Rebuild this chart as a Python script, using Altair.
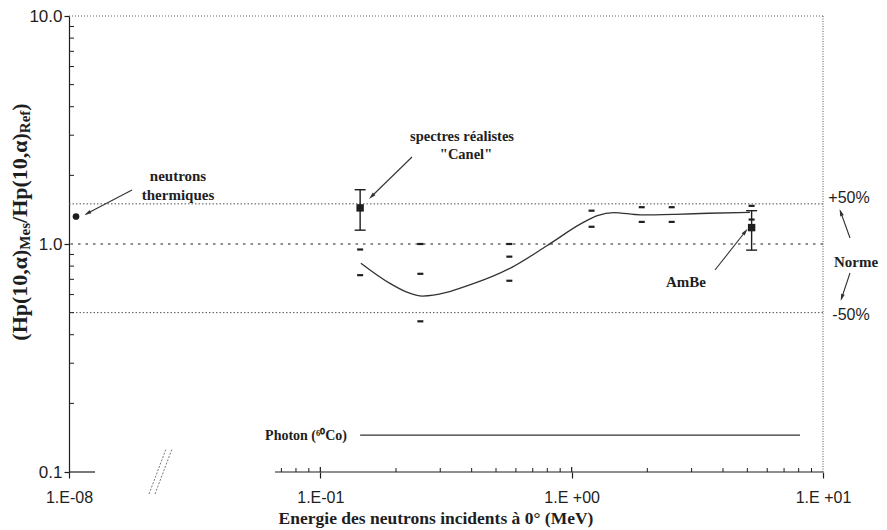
import math
import altair as alt
import pandas as pd

# ---------------- data ----------------
thermal_energy = [2.5e-8]
thermal_ratio = [1.32]

canel_energy = [0.144]
canel_ratio = [1.44]
canel_low = [1.15]
canel_high = [1.73]

ambe_energy = [5.2]
ambe_ratio = [1.18]
ambe_low = [0.94]
ambe_high = [1.40]

dash_energy = [0.144, 0.144, 0.25, 0.25, 0.25, 0.565, 0.565, 0.565,
               1.2, 1.2, 1.9, 1.9, 2.5, 2.5, 5.2, 5.2]
dash_ratio = [0.946, 0.73, 1.0, 0.74, 0.458, 1.0, 0.88, 0.69,
              1.40, 1.19, 1.45, 1.25, 1.45, 1.25, 1.47, 1.28]

curve_energy = [0.145, 0.19, 0.221, 0.255, 0.406, 0.578, 0.80, 1.086,
                1.265, 1.47, 1.88, 2.59, 3.50, 5.12]
curve_ratio = [0.824, 0.67, 0.615, 0.591, 0.67, 0.79, 0.985, 1.225,
               1.333, 1.374, 1.342, 1.35, 1.364, 1.377]

photon_energy = [0.144, 8.1]
photon_ratio = [0.145, 0.145]

limit_levels = [1.5, 0.5]          # +50 % / -50 %
norm_level = [1.0]                 # Norme
top_level = [10.0]

y_tick_values = [0.1, 1.0, 10.0]
y_minor_values = [0.2, 0.3, 0.4, 0.5, 0.6, 0.7, 0.8, 0.9, 2, 3, 4, 5, 6, 7, 8, 9]
x_tick_energy = [1e-8, 0.1, 1.0, 10.0]
x_tick_labels = ["1.E-08", "1.E-01", "1.E +00", "1.E +01"]
x_minor_energy = [0.07, 0.08, 0.09, 0.2, 0.3, 0.4, 0.5, 0.6, 0.7, 0.8, 0.9,
                  2, 3, 4, 5, 6, 7, 8, 9]
x_major_inner_energy = [0.1, 1.0]
axis_left_stub = [1e-8, 3e-7]
axis_right_span = [0.066, 10.0]


# broken energy axis: log10 for E >= 0.01, compressed segment near 1e-8
def pos(e):
    lg = math.log10(e)
    if e >= 0.01:
        return lg
    return -2 + (lg + 8) * 0.07


W, H = 754, 456
INK = "#1e1e1e"
SERIF = "Liberation Serif"
SANS = "Liberation Sans"

tick_pos = [pos(e) for e in x_tick_energy]
expr = "'" + x_tick_labels[-1] + "'"
for i in range(len(tick_pos) - 2, -1, -1):
    mid = (tick_pos[i] + tick_pos[i + 1]) / 2
    expr = f"datum.value < {mid} ? '{x_tick_labels[i]}' : " + expr

xs = alt.Scale(domain=[-2, 1], nice=False, zero=False)
ys = alt.Scale(type="log", domain=[0.1, 10], nice=False)

x_axis = alt.Axis(values=tick_pos, labelExpr=expr, domain=False, grid=False,
                  tickSize=6, tickColor=INK, tickWidth=1.2,
                  labelFont=SANS, labelFontSize=16, labelColor=INK,
                  labelPadding=11, labelFlush=False, labelOverlap=False,
                  labelBound=False, title=None)
y_axis = alt.Axis(values=y_tick_values, format=".1f", domain=True,
                  domainColor=INK, domainWidth=1.2, grid=False,
                  tickSize=5, tickColor=INK, tickWidth=1.2,
                  labelFont=SANS, labelFontSize=17, labelColor=INK,
                  labelPadding=2, labelFlush=False, labelOverlap=False,
                  title=None)


def X(f):
    return alt.X(f, type="quantitative", scale=xs, axis=x_axis)


def Y(f):
    return alt.Y(f, type="quantitative", scale=ys, axis=y_axis)


layers = []

# reference levels
layers.append(alt.Chart(pd.DataFrame({"r": top_level})).mark_rule(
    color="#666", strokeWidth=1, strokeDash=[1, 2]).encode(y=Y("r")))
layers.append(alt.Chart(pd.DataFrame({"r": limit_levels})).mark_rule(
    color="#555", strokeWidth=1, strokeDash=[1.5, 2]).encode(y=Y("r")))
layers.append(alt.Chart(pd.DataFrame({"r": norm_level})).mark_rule(
    color=INK, strokeWidth=1.2, strokeDash=[2.5, 5]).encode(y=Y("r")))

# right dotted border
layers.append(alt.Chart(pd.DataFrame({"u": [pos(10.0)], "lo": [0.1], "hi": [10.0]})).mark_rule(
    color="#555", strokeWidth=1, strokeDash=[1, 1.5]).encode(x=X("u"), y=Y("lo"), y2="hi"))

# broken x axis line
seg = pd.DataFrame({"u": [pos(axis_left_stub[0]), pos(axis_right_span[0])],
                    "u2": [pos(axis_left_stub[1]), pos(axis_right_span[1])]})
layers.append(alt.Chart(seg).mark_rule(color=INK, strokeWidth=1.2).encode(
    x=X("u"), x2="u2", y=alt.value(H)))

# minor ticks (inward)
layers.append(alt.Chart(pd.DataFrame({"u": [pos(e) for e in x_minor_energy]})).mark_rule(
    color=INK, strokeWidth=1).encode(x=X("u"), y=alt.value(H - 4), y2=alt.value(H)))
layers.append(alt.Chart(pd.DataFrame({"u": [pos(e) for e in x_major_inner_energy]})).mark_rule(
    color=INK, strokeWidth=1.2).encode(x=X("u"), y=alt.value(H - 5), y2=alt.value(H)))
layers.append(alt.Chart(pd.DataFrame({"r": y_minor_values})).mark_rule(
    color=INK, strokeWidth=1).encode(y=Y("r"), x=alt.value(0), x2=alt.value(5)))

# axis break marks
for dx in (0, 6):
    layers.append(alt.Chart(pd.DataFrame({"k": [0]})).mark_rule(
        color="#777", strokeWidth=1, strokeDash=[2, 1.5]).encode(
        x=alt.value(80 + dx), y=alt.value(478), x2=alt.value(97 + dx), y2=alt.value(433)))

# photon line
layers.append(alt.Chart(pd.DataFrame({"u": [pos(e) for e in photon_energy], "r": photon_ratio})).mark_line(
    color="#333", strokeWidth=1.3).encode(x=X("u"), y=Y("r")))

# fitted curve
layers.append(alt.Chart(pd.DataFrame({"u": [pos(e) for e in curve_energy], "r": curve_ratio})).mark_line(
    color="#333", strokeWidth=1.3, interpolate="monotone").encode(x=X("u"), y=Y("r")))

# dashes
layers.append(alt.Chart(pd.DataFrame({"u": [pos(e) for e in dash_energy], "r": dash_ratio})).mark_tick(
    orient="horizontal", size=6, thickness=2.2, color=INK, opacity=1).encode(x=X("u"), y=Y("r")))

# error bars + squares
err = pd.DataFrame({"u": [pos(e) for e in canel_energy + ambe_energy],
                    "r": canel_ratio + ambe_ratio,
                    "lo": canel_low + ambe_low,
                    "hi": canel_high + ambe_high})
layers.append(alt.Chart(err).mark_rule(color=INK, strokeWidth=1.4).encode(x=X("u"), y=Y("lo"), y2="hi"))
layers.append(alt.Chart(err).mark_tick(orient="horizontal", size=11, thickness=1.4, color=INK, opacity=1).encode(
    x=X("u"), y=Y("lo")))
layers.append(alt.Chart(err).mark_tick(orient="horizontal", size=11, thickness=1.4, color=INK, opacity=1).encode(
    x=X("u"), y=Y("hi")))
layers.append(alt.Chart(err).mark_square(size=55, color=INK, opacity=1).encode(x=X("u"), y=Y("r")))

# thermal neutrons
layers.append(alt.Chart(pd.DataFrame({"u": [pos(e) for e in thermal_energy], "r": thermal_ratio})).mark_circle(
    size=45, color=INK, opacity=1).encode(x=X("u"), y=Y("r")))


# ---------------- annotations ----------------
def text(t, x, y, size=15, font=SERIF, weight="bold", align="center", angle=0, baseline="middle"):
    return alt.Chart(pd.DataFrame({"t": [t]})).mark_text(
        font=font, fontSize=size, fontWeight=weight, align=align, baseline=baseline,
        angle=angle, color=INK).encode(text="t:N", x=alt.value(x), y=alt.value(y))


def arrow(x1, y1, x2, y2):
    ang = math.degrees(math.atan2(x2 - x1, -(y2 - y1))) % 360
    line = alt.Chart(pd.DataFrame({"k": [0]})).mark_rule(color="#333", strokeWidth=1.1).encode(
        x=alt.value(x1), y=alt.value(y1), x2=alt.value(x2), y2=alt.value(y2))
    head = alt.Chart(pd.DataFrame({"k": [0]})).mark_point(
        shape="M0,-1L0.45,0.7L-0.45,0.7Z", filled=True, size=70, angle=ang,
        color="#333", opacity=1).encode(x=alt.value(x2), y=alt.value(y2))
    return [line, head]


layers += [text("neutrons", 109, 160), text("thermiques", 109, 179)]
layers += arrow(63, 174, 19, 197)
layers += [text("spectres réalistes", 393, 121, size=14.5), text('"Canel"', 397, 139, size=14.5)]
layers += arrow(343, 141, 303, 180)
layers += [text("AmBe", 617, 266)]
layers += arrow(646, 254, 676, 216)
layers += [text("+50%", 780, 182, font=SANS, weight="normal", size=16),
           text("Norme", 787, 246),
           text("-50%", 782, 299, font=SANS, weight="normal", size=16)]
layers += arrow(781, 222, 772, 197)
layers += arrow(781, 257, 773, 281)
layers += [text("Photon (⁶⁰Co)", 278, 420, size=14, align="right")]
layers += [text("Energie des neutrons incidents à 0°  (MeV)", 367, 503, size=17.5)]

# y title built from pieces (with subscripts), rotated
F, f = 22, 15
pieces = [("(Hp(10,α)", F, 0), ("Mes", f, 5), ("/Hp(10,α)", F, 0), ("Ref", f, 5), (")", F, 0)]
em = {"(Hp(10,α)": 4.139, "Mes": 1.777, "/Hp(10,α)": 4.084, "Ref": 1.499, ")": 0.333}
total = sum(em[p] * s for p, s, _ in pieces)
ystart = 206 + total / 2
for p, s, sh in pieces:
    layers.append(text(p, -49 + sh, ystart, size=s, align="left", angle=270))
    ystart -= em[p] * s

chart = alt.layer(*layers).properties(
    width=W, height=H,
    padding={"left": 61, "top": 8, "right": 56, "bottom": 58},
    autosize=alt.AutoSizeParams(type="none"),
    background="white",
).configure_view(strokeOpacity=0)

chart.save("out.html", embed_options={"renderer": "svg", "actions": False})
